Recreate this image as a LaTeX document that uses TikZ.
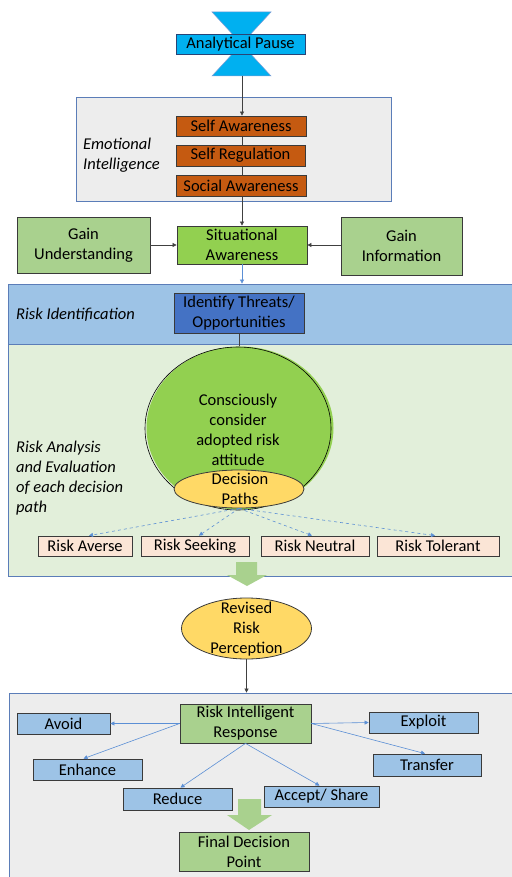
\documentclass[tikz,border=0pt]{standalone}
\usepackage{fontspec}
\setmainfont{Carlito}
\usetikzlibrary{shapes.geometric,arrows.meta}
\definecolor{cyanc}{HTML}{00B0F0}
\definecolor{orangec}{HTML}{C55A11}
\definecolor{greyband}{HTML}{EDEDED}
\definecolor{bandline}{HTML}{5B7DB8}
\definecolor{limec}{HTML}{92D050}
\definecolor{sagec}{HTML}{A9D18E}
\definecolor{skyc}{HTML}{9DC3E6}
\definecolor{bluec}{HTML}{4472C4}
\definecolor{paleg}{HTML}{E2EFDA}
\definecolor{goldc}{HTML}{FFD966}
\definecolor{peachc}{HTML}{FBE5D6}
\definecolor{bordc}{HTML}{3A3A3A}
\definecolor{linkb}{HTML}{5B8FD5}
\pgfdeclarelayer{bands}
\pgfdeclarelayer{links}
\pgfsetlayers{bands,links,main}
\begin{document}
\begin{tikzpicture}[x=1pt,y=-1pt,
  font=\fontsize{16.5}{20}\selectfont,
  box/.style={draw=bordc, line width=0.8pt, inner sep=0pt, align=center, text=black},
  band/.style={draw=bandline, line width=0.8pt, inner sep=0pt},
  lbl/.style={font=\fontsize{16.5}{20}\selectfont\itshape, align=left, anchor=west, inner sep=0pt},
  ell/.style={ellipse, draw=bordc, line width=0.8pt, fill=goldc, inner sep=0pt},
  txt/.style={align=center, inner sep=0pt},
  blk/.style={-{Triangle[length=4pt,width=4pt]}, line width=0.6pt, black!75},
  bluearr/.style={-{Triangle[length=4pt,width=4pt]}, line width=0.6pt, linkb},
  dasharr/.style={-{Triangle[length=4pt,width=4pt]}, line width=0.6pt, linkb, dashed},
  blockarrow/.style={fill=sagec, draw=none}
]
\useasboundingbox (0,0) rectangle (511,877);

% ---------- bands ----------
\begin{pgfonlayer}{bands}
\node[band, fill=greyband, minimum width=315, minimum height=104] (ei) at (233.5,149) {};
\node[band, fill=skyc, minimum width=507, minimum height=60] (riskid) at (261.5,314) {};
\node[band, fill=paleg, minimum width=507, minimum height=232] (riskan) at (261.5,460) {};
\node[band, fill=greyband, minimum width=506, minimum height=190] (resp) at (262,788) {};
\end{pgfonlayer}

% ---------- hourglass ----------
\fill[cyanc] (212,12) -- (271,12) -- (241.5,44) -- cycle;
\fill[cyanc] (212,76) -- (271,76) -- (241.5,44) -- cycle;
\draw[bluec!70, line width=0.5pt] (212,12) -- (271,12) -- (212,76) -- (271,76) -- cycle;
\coordinate (hg) at (242,76);
\node[box, fill=cyanc, draw=bluec!60!black, minimum width=129, minimum height=20] (pause) at (240.5,44) {Analytical Pause};

% ---------- emotional intelligence ----------
\node[lbl] (eilbl) at (83,155) {Emotional\\Intelligence};
\node[box, fill=orangec, minimum width=130, minimum height=20] (selfaw) at (241,126) {Self Awareness};
\node[box, fill=orangec, minimum width=129, minimum height=21] (selfreg) at (240.5,155.5) {Self Regulation};
\node[box, fill=orangec, minimum width=130, minimum height=21] (socaw) at (241,185.5) {Social Awareness};

% ---------- situational awareness ----------
\node[box, fill=limec, minimum width=130, minimum height=38] (sit) at (242,245) {Situational\\Awareness};
\node[box, fill=sagec, minimum width=133, minimum height=56] (gu) at (83.5,245) {Gain\\Understanding};
\node[box, fill=sagec, minimum width=121, minimum height=58] (gi) at (401.5,246) {Gain\\Information};

% ---------- risk identification ----------
\node[lbl] (ridlbl) at (16,315) {Risk Identification};
\node[box, fill=bluec, minimum width=130, minimum height=40] (ident) at (239,313) {Identify Threats/\\Opportunities};

% ---------- risk analysis ----------
\node[lbl] (ranlbl) at (16,478) {Risk Analysis\\and Evaluation\\of each decision\\path};
\node[ellipse, fill=limec, inner sep=0pt, minimum width=187, minimum height=163] (consc) at (240,428) {};
\draw[black, line width=0.6pt] (238,428.5) ellipse (93 and 81.5);
\node[txt] (consctxt) at (238,430) {Consciously\\consider\\adopted risk\\attitude};
\node[ell, minimum width=130, minimum height=38] (dp) at (239,489) {};
\node[txt] (dptxt) at (240,489) {Decision\\Paths};
\node[box, fill=peachc, minimum width=94, minimum height=20] (averse) at (85,546) {Risk Averse};
\node[box, fill=peachc, minimum width=108, minimum height=20] (seeking) at (195,546) {Risk Seeking};
\node[box, fill=peachc, minimum width=108, minimum height=20] (neutral) at (315,546) {Risk Neutral};
\node[box, fill=peachc, minimum width=122, minimum height=20] (tolerant) at (438,546) {Risk Tolerant};

\fill[blockarrow] (236,562) -- (257,562) -- (257,575) -- (267,575) -- (247,586) -- (227,575) -- (236,575) -- cycle;

% ---------- revised perception ----------
\node[ell, minimum width=130, minimum height=61] (rev) at (246.5,628.5) {};
\node[txt] (revtxt) at (246.5,629) {Revised\\Risk\\Perception};

% ---------- response ----------
\node[box, fill=sagec, minimum width=131, minimum height=39] (rir) at (245.5,723.5) {Risk Intelligent\\Response};
\node[box, fill=skyc, minimum width=93, minimum height=21] (avoid) at (63.5,723.5) {Avoid};
\node[box, fill=skyc, minimum width=109, minimum height=21] (enhance) at (87.5,769.5) {Enhance};
\node[box, fill=skyc, minimum width=109, minimum height=22] (reduce) at (177.5,799) {Reduce};
\node[box, fill=skyc, minimum width=115, minimum height=21] (accept) at (321.5,796.5) {Accept/ Share};
\node[box, fill=skyc, minimum width=109, minimum height=21] (exploit) at (423.5,722.5) {Exploit};
\node[box, fill=skyc, minimum width=108, minimum height=22] (transfer) at (427,765) {Transfer};

\fill[blockarrow] (238,799) -- (261,799) -- (261,815) -- (272,815) -- (249,830) -- (227,815) -- (238,815) -- cycle;
\node[box, fill=sagec, minimum width=130, minimum height=39] (final) at (244,851.5) {Final Decision\\Point};

% ---------- connectors ----------
\draw[blk] (hg) -- (selfaw.north -| hg);
\begin{pgfonlayer}{links}
\draw[blk] (selfaw.south -| sit.north) -- (sit.north);
\draw[black!75, line width=0.6pt] (ident.south) -- (ident.south |- consc.north);
\end{pgfonlayer}
\draw[blk] (gu.east) -- (sit.west);
\draw[blk, line width=0.8pt] (gi.west |- sit.east) -- (sit.east);
\draw[bluearr] (sit.south) -- (sit.south |- riskid.north);

\draw[dasharr] (dp.south) -- ([xshift=4pt]averse.north);
\draw[dasharr] (dp.south) -- ([xshift=4pt]seeking.north);
\draw[dasharr] (dp.south) -- ([xshift=-3pt]neutral.north);
\draw[dasharr] (dp.south) -- ([xshift=-3pt]tolerant.north);

\draw[blk] (rev.south) -- (rev.south |- resp.north);

\draw[bluearr] (rir.west) -- (avoid.east);
\draw[bluearr] (rir.west) -- ([xshift=-4pt]enhance.north);
\draw[bluearr] (rir.south) -- ([xshift=3pt]reduce.north);
\draw[bluearr] (rir.south) -- ([xshift=-2pt]accept.north);
\draw[bluearr] (rir.east) -- (exploit.west);
\draw[bluearr] (rir.east) -- ([xshift=-2pt]transfer.north);
\end{tikzpicture}
\end{document}
